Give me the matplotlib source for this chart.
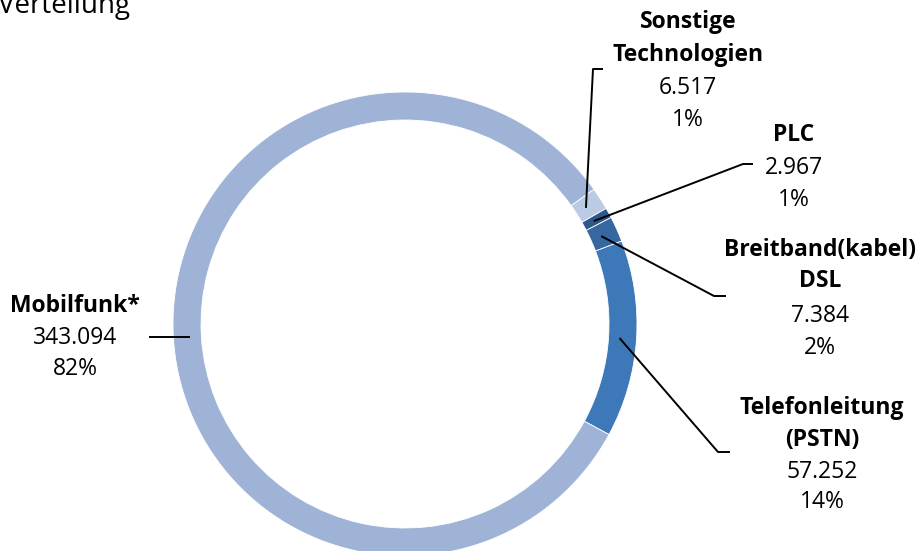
import numpy as np
import matplotlib.pyplot as plt

W, H = 917, 551

# data
names = [['Sonstige', 'Technologien'], ['PLC'], ['Breitband(kabel)', 'DSL'],
         ['Telefonleitung', '(PSTN)'], ['Mobilfunk*']]
values = [6517, 2967, 7384, 57252, 343094]
value_labels = ['6.517', '2.967', '7.384', '57.252', '343.094']
pct_labels = ['1%', '1%', '2%', '14%', '82%']
colors = ['#BCCBE5', '#2E588C', '#3767A0', '#3D78B9', '#9EB3D6']

# layout (pixels, y measured from top)
center = (405, 324)
r_out, r_in = 232, 204
start = 35.5
label_x = [688, 794, 820, 822, 75]
label_y = [[22, 55, 88, 120], [135, 168, 200], [250, 281, 316, 348],
           [408, 440, 472, 502], [306, 338, 369]]
elbows = [[(593, 69), (603, 69)], [(743, 164), (753, 164)],
          [(714, 296), (726, 296)], [(718, 452), (730, 452)], [(149, None)]]

plt.rcParams['font.family'] = ['Open Sans', 'DejaVu Sans']
fig = plt.figure(figsize=(W / 100, H / 100), dpi=100)
ax = fig.add_axes([0, 0, 1, 1])

cx, cy = center[0], H - center[1]
wedges, _ = ax.pie(values, colors=colors, startangle=start, counterclock=False,
                   radius=r_out, center=(cx, cy), frame=True,
                   wedgeprops=dict(width=r_out - r_in, edgecolor='white', linewidth=0.6))
ax.set_xlim(0, W)
ax.set_ylim(0, H)
ax.axis('off')

r_anchor = 215
for i, w in enumerate(wedges):
    mid = np.deg2rad((w.theta1 + w.theta2) / 2)
    ax0 = cx + r_anchor * np.cos(mid)
    ay0 = cy + r_anchor * np.sin(mid)
    pts = [(ax0, ay0)]
    for ex, ey in elbows[i]:
        pts.append((ex, ay0 if ey is None else H - ey))
    xs, ys = zip(*pts)
    ax.plot(xs, ys, color='black', lw=1.4, solid_capstyle='butt')

    lines = names[i] + [value_labels[i], pct_labels[i]]
    for j, txt in enumerate(lines):
        bold = j < len(names[i])
        ax.text(label_x[i], H - label_y[i][j], txt, ha='center', va='center',
                fontsize=16.5, fontweight='bold' if bold else 'normal', color='black')

ax.text(-2, H - 13, 'Verteilung', ha='left', va='baseline', fontsize=20, color='black')

fig.savefig('out.png', dpi=100)
